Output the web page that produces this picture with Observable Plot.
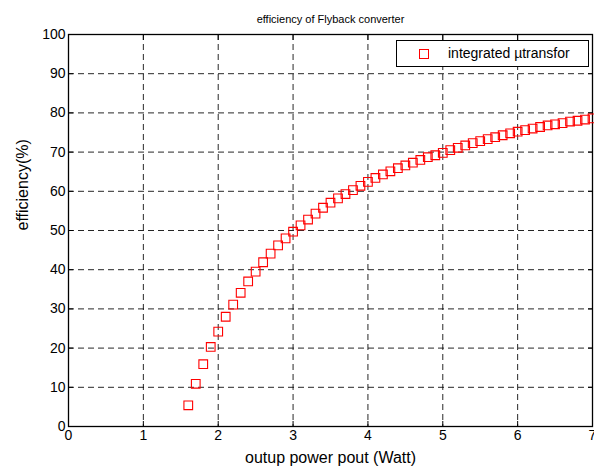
<!DOCTYPE html>
<html>
<head>
<meta charset="utf-8">
<script src="https://cdn.jsdelivr.net/npm/d3@7"></script>
<script src="https://cdn.jsdelivr.net/npm/@observablehq/plot@0.6"></script>
<style>
  html, body { margin: 0; padding: 0; background: #fff; }
  #wrap { position: relative; width: 594px; height: 472px; font-family: "Liberation Sans", Arial, sans-serif; }
  #legend { position: absolute; left: 396px; top: 40px; width: 191px; height: 25px; border: 1px solid #000; background: #fff; font-size: 14px; }
  #legend svg { position: absolute; left: 22px; top: 8px; }
  #legend span { position: absolute; left: 51px; top: 4px; white-space: nowrap; }
</style>
</head>
<body>
<div id="wrap"></div>
<script>
const title = "efficiency of Flyback converter";
const xLabel = "outup power pout (Watt)";
const yLabel = "efficiency(%)";
const seriesName = "integrated µtransfor";
const xTicks = [0, 1, 2, 3, 4, 5, 6, 7];
const yTicks = [0, 10, 20, 30, 40, 50, 60, 70, 80, 90, 100];

const power = [1.6, 1.7, 1.8, 1.9, 2.0, 2.1, 2.2, 2.3, 2.4, 2.5, 2.6, 2.7, 2.8, 2.9,
  3.0, 3.1, 3.2, 3.3, 3.4, 3.5, 3.6, 3.7, 3.8, 3.9, 4.0, 4.1, 4.2, 4.3, 4.4, 4.5,
  4.6, 4.7, 4.8, 4.9, 5.0, 5.1, 5.2, 5.3, 5.4, 5.5, 5.6, 5.7, 5.8, 5.9, 6.0, 6.1,
  6.2, 6.3, 6.4, 6.5, 6.6, 6.7, 6.8, 6.9, 7.0];
const efficiency = [5.4, 10.9, 15.9, 20.3, 24.2, 28.0, 31.1, 34.1, 37.0, 39.5, 41.9, 44.1, 46.2, 48.0,
  49.7, 51.3, 52.8, 54.3, 55.8, 57.1, 58.2, 59.3, 60.3, 61.4, 62.4, 63.4, 64.3, 65.1, 65.9, 66.6,
  67.3, 68.0, 68.7, 69.2, 69.8, 70.5, 71.1, 71.7, 72.3, 72.8, 73.3, 73.8, 74.3, 74.8, 75.2, 75.6,
  76.0, 76.4, 76.8, 77.1, 77.4, 77.8, 78.0, 78.3, 78.6];

const data = power.map((p, i) => ({p, e: efficiency[i]}));
const font = "Liberation Sans, Arial, sans-serif";

const chart = Plot.plot({
  width: 594,
  height: 472,
  marginLeft: 68,
  marginRight: 2,
  marginTop: 34,
  marginBottom: 46,
  style: {fontFamily: font, fontSize: "14px", color: "#000", background: "#fff"},
  x: {domain: [0, 7], ticks: xTicks},
  y: {domain: [0, 100], ticks: yTicks},
  marks: [
    Plot.gridX(xTicks.slice(1, -1), {stroke: "#000", strokeOpacity: 0.85, strokeDasharray: "6,4"}),
    Plot.gridY(yTicks.slice(1, -1), {stroke: "#000", strokeOpacity: 0.85, strokeDasharray: "6,4"}),
    Plot.axisX(xTicks, {anchor: "bottom", tickSize: 0, tickPadding: 4, label: null, fontSize: 14}),
    Plot.axisY(yTicks, {anchor: "left", tickSize: 0, tickPadding: 3, label: null, fontSize: 14}),
    Plot.axisX(xTicks, {anchor: "bottom", tickSize: 5, dy: -5, text: null, label: null}),
    Plot.axisX(xTicks, {anchor: "top", tickSize: 5, dy: 5, text: null, label: null}),
    Plot.axisY(yTicks, {anchor: "left", tickSize: 5, dx: 5, text: null, label: null}),
    Plot.axisY(yTicks, {anchor: "right", tickSize: 5, dx: -5, text: null, label: null}),
    Plot.frame({stroke: "#000", strokeWidth: 1.3}),
    Plot.dot(data, {x: "p", y: "e", symbol: "square", r: 4.9, stroke: "#f00", strokeWidth: 1.1, fill: "none"}),
    Plot.text([title], {frameAnchor: "top", dy: -19, fontSize: 11, fill: "#000"}),
    Plot.text([xLabel], {frameAnchor: "bottom", dy: 36, fontSize: 16, fill: "#000"}),
    Plot.text([yLabel], {frameAnchor: "left", dx: -46, rotate: -90, fontSize: 16, fill: "#000"})
  ]
});

const wrap = document.getElementById("wrap");
wrap.appendChild(chart);
const legend = document.createElement("div");
legend.id = "legend";
legend.innerHTML = `<svg width="10" height="10"><rect x="0.5" y="0.5" width="9" height="9" fill="none" stroke="#f00" stroke-width="1"/></svg><span>${seriesName}</span>`;
wrap.appendChild(legend);
</script>
</body>
</html>
